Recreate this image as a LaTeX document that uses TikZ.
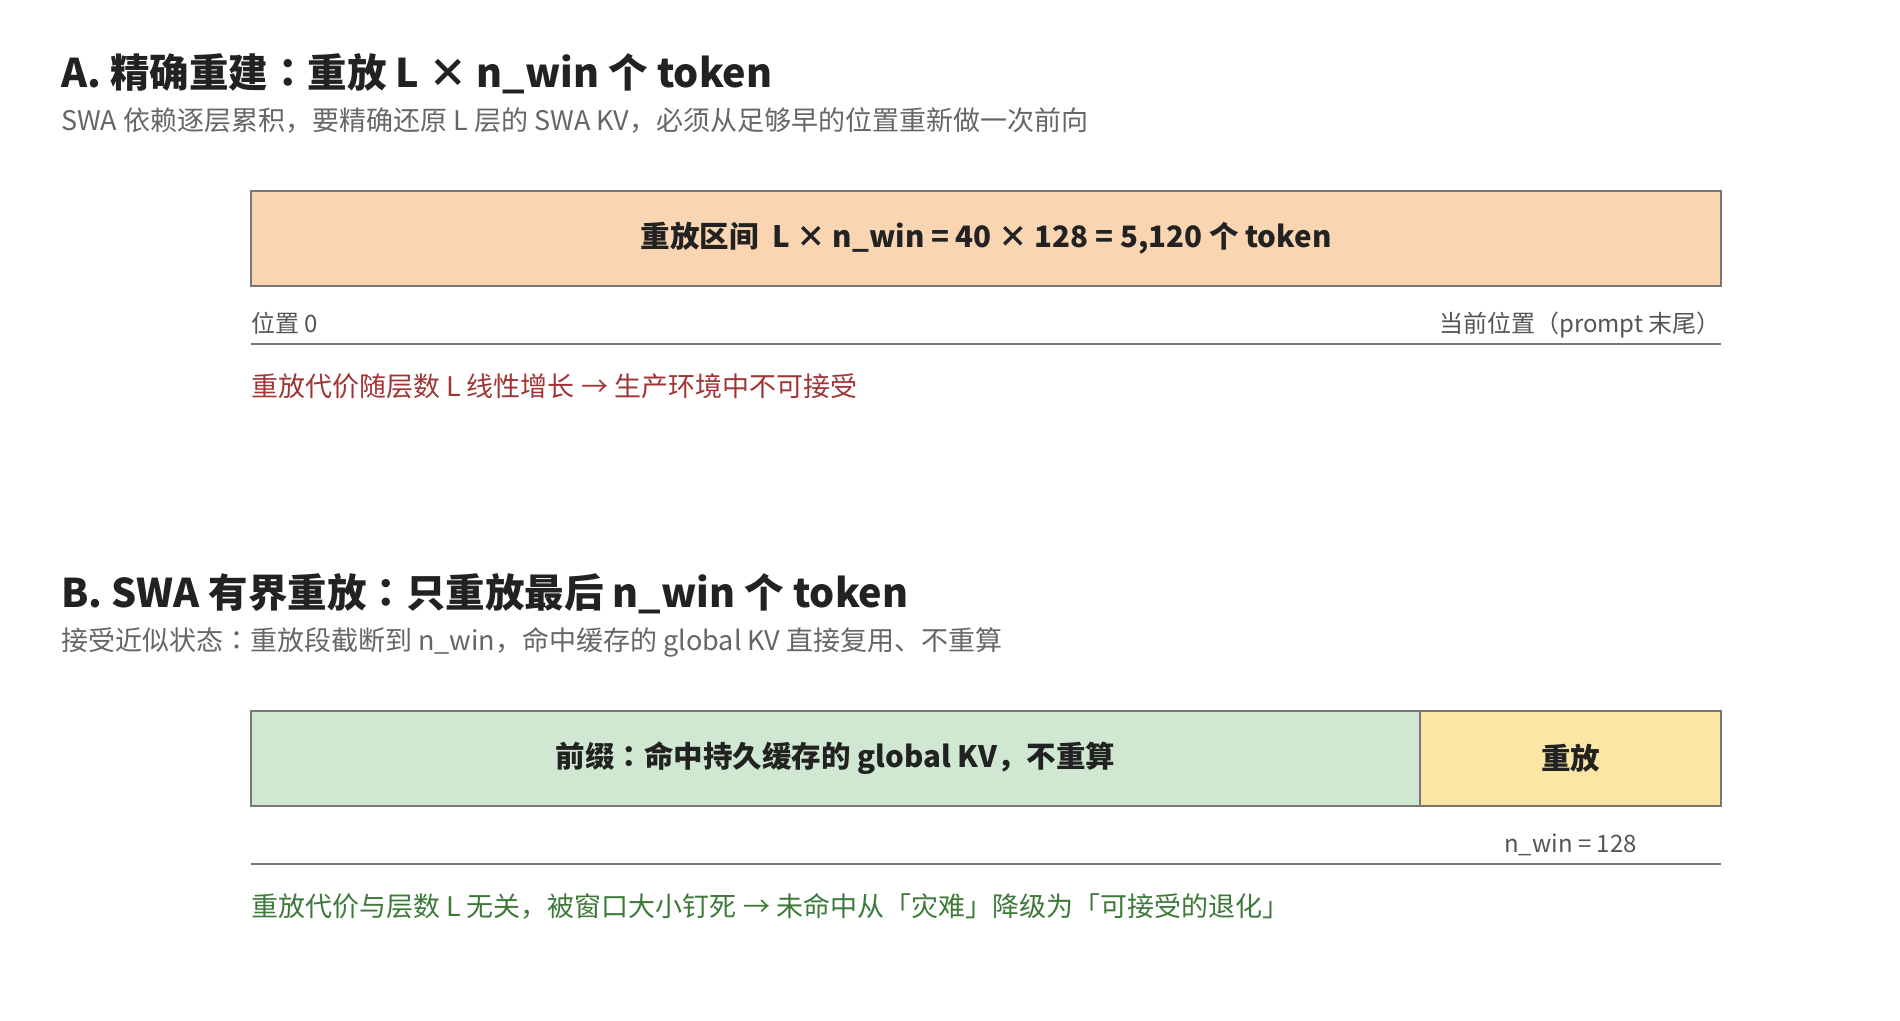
\documentclass[tikz,border=0pt]{standalone}
\usepackage{fontspec}
\setmainfont{Noto Sans CJK SC}
\newfontfamily\jpfont{Noto Sans CJK JP}
\newcommand{\jcolon}{{\jpfont ：}}
\usetikzlibrary{positioning}
\definecolor{titlec}{HTML}{222222}
\definecolor{subc}{HTML}{666666}
\definecolor{edgec}{HTML}{777777}
\definecolor{peach}{HTML}{F9D5B1}
\definecolor{mint}{HTML}{D0E8D1}
\definecolor{butter}{HTML}{FCE6A6}
\definecolor{labc}{HTML}{555555}
\definecolor{redc}{HTML}{A03535}
\definecolor{greenc}{HTML}{3D7A3A}
\tikzset{
  ttl/.style={anchor=base west,inner sep=0pt,text=titlec,font=\fontsize{39.5}{47}\selectfont\bfseries},
  subt/.style={anchor=base west,inner sep=0pt,text=subc,font=\fontsize{27}{32}\selectfont},
  seg/.style={draw=edgec,line width=2.5pt,inner sep=0pt,text=titlec,font=\fontsize{29.5}{35}\selectfont\bfseries},
  lab/.style={inner sep=0pt,text=labc,font=\fontsize{24}{28}\selectfont},
  axisline/.style={draw=edgec,line width=2.5pt},
  note/.style={anchor=base west,inner sep=0pt,font=\fontsize{27}{32}\selectfont},
}
\begin{document}
\begin{tikzpicture}[x=1pt,y=-1pt]
\useasboundingbox[fill=white] (0,0) rectangle (1900,1020);
% ---- Part A
\node[ttl] (tA) at (61,87) {A. 精确重建\jcolon 重放 L × n\_win 个 token};
\node[subt] (sA) at (61,130) {SWA 依赖逐层累积，要精确还原 L 层的 SWA KV，必须从足够早的位置重新做一次前向};
\node[seg,fill=peach,minimum width=1470pt,minimum height=95pt] (boxA) at (986,238.5) {重放区间\ \ L × n\_win = 40 × 128 = 5,120 个 token};
\node[lab,anchor=base west] (p0) at (251,332) {位置 0};
\node[lab,anchor=base east] (pend) at (1721,332) {当前位置（prompt 末尾）};
\coordinate (aL) at (251,344);
\coordinate (aR) at (1721,344);
\draw[axisline] (aL) -- (aR);
\node[note,text=redc] (nA) at (251,396) {重放代价随层数 L 线性增长 → 生产环境中不可接受};
% ---- Part B
\node[ttl] (tB) at (61,607) {B. SWA 有界重放\jcolon 只重放最后 n\_win 个 token};
\node[subt] (sB) at (61,650) {接受近似状态\jcolon 重放段截断到 n\_win，命中缓存的 global KV 直接复用、不重算};
\node[seg,fill=mint,minimum width=1169pt,minimum height=95pt] (boxB1) at (835.5,758.5) {前缀\jcolon 命中持久缓存的 global KV，不重算};
\node[seg,fill=butter,minimum width=301pt,minimum height=95pt] (boxB2) at (1570.5,758.5) {重放};
\node[lab,anchor=base] (nw) at (1570.5,852) {n\_win = 128};
\coordinate (bL) at (251,864);
\coordinate (bR) at (1721,864);
\draw[axisline] (bL) -- (bR);
\node[note,text=greenc] (nB) at (251,916) {重放代价与层数 L 无关，被窗口大小钉死 → 未命中从「灾难」降级为「可接受的退化」};
\end{tikzpicture}
\end{document}
